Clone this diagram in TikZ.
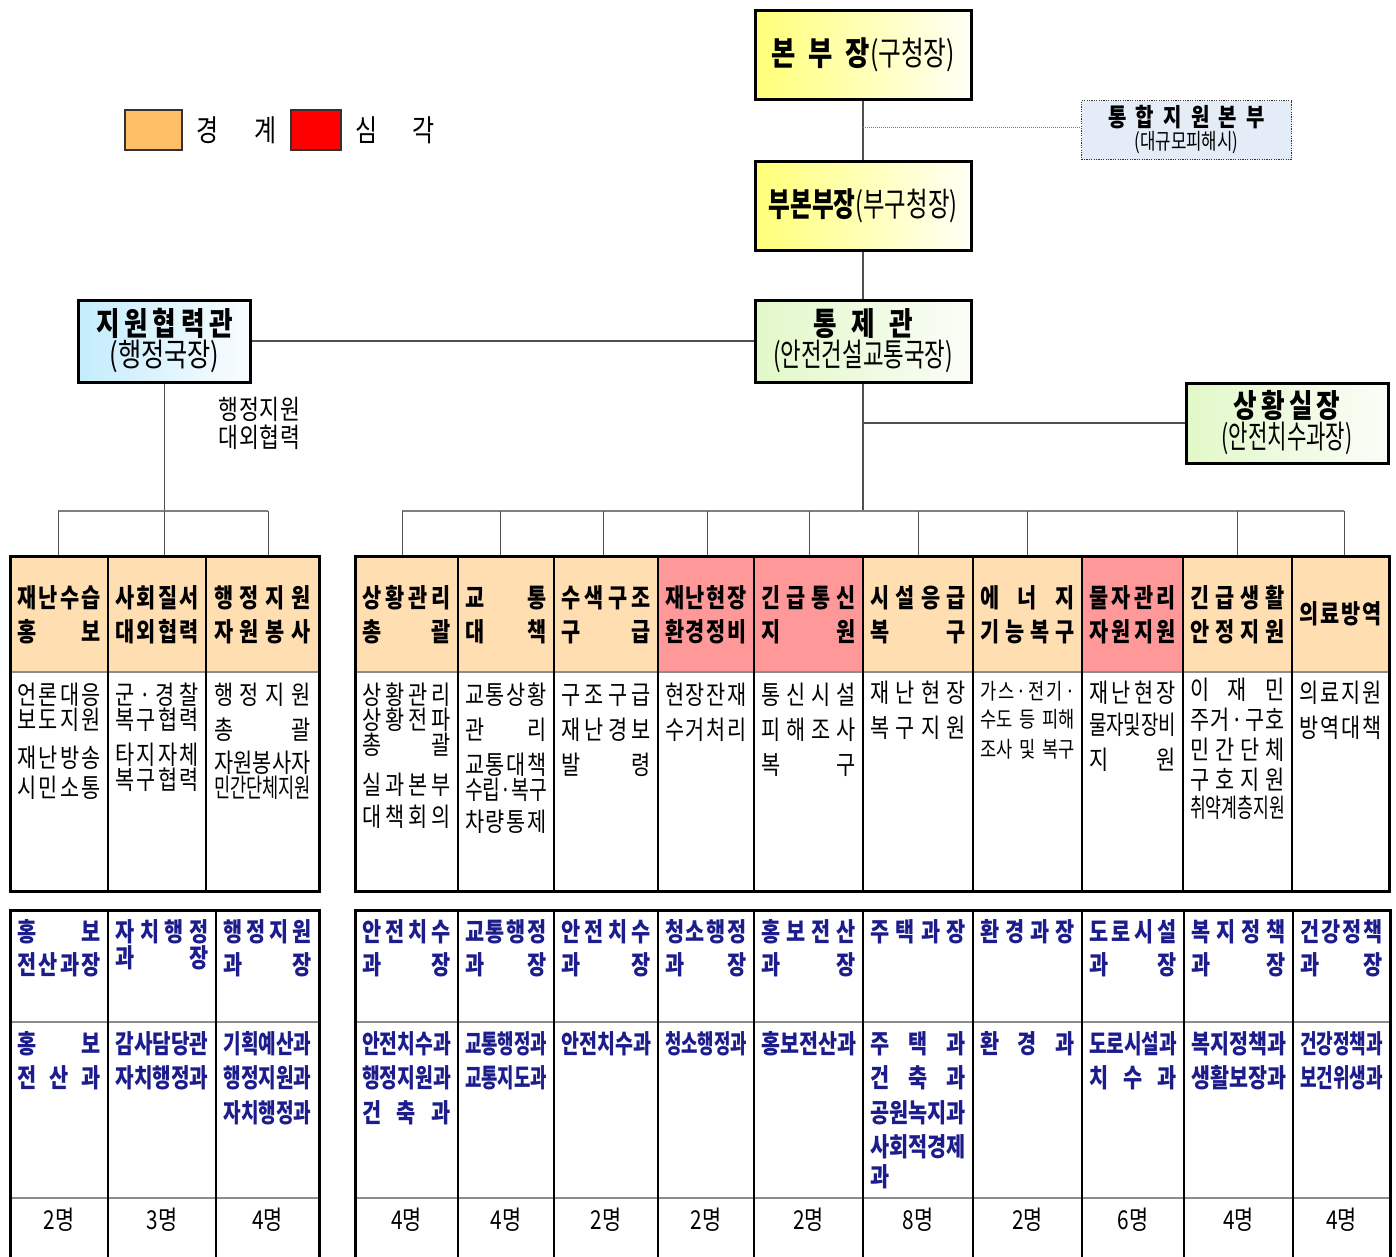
\documentclass[tikz,border=0pt]{standalone}
\usepackage{fontspec}
\usepackage{graphicx}
\setmainfont{Noto Sans CJK KR}
\newfontfamily\krc[FakeStretch=0.8]{Noto Sans CJK KR}
\usetikzlibrary{calc}
\definecolor{hdrc}{RGB}{255,222,178}
\definecolor{pinkc}{RGB}{255,153,153}
\definecolor{navyk}{RGB}{28,28,140}
\definecolor{linec}{RGB}{80,80,80}
\definecolor{yelc}{RGB}{255,255,120}
\definecolor{yelw}{RGB}{255,255,245}
\definecolor{grnc}{RGB}{226,248,200}
\definecolor{grnw}{RGB}{250,253,248}
\definecolor{bluc}{RGB}{196,236,252}
\definecolor{bluw}{RGB}{250,253,255}
\definecolor{tonghapc}{RGB}{228,236,248}
\definecolor{legor}{RGB}{255,191,102}

\ExplSyntaxOn
\box_new:N \l_rk_box
\bool_new:N \l_rk_bool
\tl_new:N \l_rk_tl
\NewDocumentCommand \dl { m }
 {
  \tl_set:No \l_rk_tl {#1}
  \hbox_set:Nn \l_rk_box { \tl_use:N \l_rk_tl }
  \dim_compare:nNnTF { \box_wd:N \l_rk_box } > { \hsize }
   {
    \box_scale:Nnn \l_rk_box { \dim_ratio:nn { \hsize } { \box_wd:N \l_rk_box } } { 1 }
    \hbox_to_wd:nn { \hsize } { \box_use_drop:N \l_rk_box \hss }
   }
   {
    \hbox_to_wd:nn { \hsize }
     {
      \bool_set_false:N \l_rk_bool
      \tl_map_inline:Nn \l_rk_tl
       { \bool_if:NT \l_rk_bool { \hfill } ##1 \bool_set_true:N \l_rk_bool }
     }
   }
 }
\ExplSyntaxOff

% #1 style, #2 name prefix, #3 x centre, #4 text width, #5 list y/text
\newcommand\colt[5]{\foreach \yy/\tx [count=\k] in {#5} {\node[#1, text width=#4pt, anchor=base] (#2-\k) at (#3,\yy+9.5) {\dl{\tx}};}}

\tikzset{
  hdrt/.style={font=\krc\bfseries\fontsize{26}{28}\selectfont, inner sep=0pt},
  bodyt/.style={font=\krc\fontsize{26}{28}\selectfont, inner sep=0pt},
  smallt/.style={font=\krc\fontsize{22}{24}\selectfont, inner sep=0pt},
  lowt/.style={font=\krc\bfseries\fontsize{26}{28}\selectfont, text=navyk, inner sep=0pt},
  cntt/.style={font=\krc\fontsize{26}{28}\selectfont, inner sep=0pt, anchor=base},
  lblt/.style={font=\krc\fontsize{27}{29}\selectfont, inner sep=0pt},
  legt/.style={font=\krc\fontsize{30}{32}\selectfont, inner sep=0pt},
  hcell/.style={draw=none, inner sep=0pt, minimum height=116pt},
  outerl/.style={line width=3pt, black},
  innerv/.style={line width=2.5pt, black},
  sepl/.style={line width=1.5pt, black!45},
  conn/.style={line width=1.2pt, color=linec},
  barl/.style={line width=1.8pt, color=black!50},
  boxs/.style={draw=black, line width=3pt, inner sep=0pt, align=center},
  legbox/.style={draw=black!80, line width=1.5pt, inner sep=0pt}
}

\begin{document}
\begin{tikzpicture}[x=1pt,y=-1pt]
\useasboundingbox (0,0) rectangle (1396,1256);

% ---------- legend ----------
\node[legbox, fill=legor, minimum width=57pt, minimum height=40pt] (lg1) at (153.5,130) {};
\node[legt, text width=81pt, anchor=base] (lg1t) at (236.5,141) {\dl{경계}};
\node[legbox, fill=red, minimum width=50pt, minimum height=40pt] (lg2) at (316,130) {};
\node[legt, text width=80pt, anchor=base] (lg2t) at (395,141) {\dl{심각}};

% ---------- top boxes ----------
\node[boxs, minimum width=216pt, minimum height=89pt, left color=yelc, right color=yelw,
      font=\krc\fontsize{33}{34}\selectfont] (bonbu) at (863,55)
  {{\bfseries\makebox[99pt][s]{본\hfill 부\hfill 장}}\resizebox{85pt}{\height}{(구청장)}};
\node[boxs, minimum width=216pt, minimum height=89pt, left color=yelc, right color=yelw,
      font=\krc\fontsize{33}{34}\selectfont] (bubon) at (863,205.5)
  {{\bfseries\resizebox{87pt}{\height}{부본부장}}\resizebox{102pt}{\height}{(부구청장)}};
\node[boxs, minimum width=216pt, minimum height=82pt, left color=grnc, right color=grnw,
      font=\krc\fontsize{32}{31}\selectfont] (tongje) at (863,341)
  {{\bfseries\makebox[100pt][s]{통\hfill 제\hfill 관}}\\\resizebox{180pt}{\height}{(안전건설교통국장)}};
\node[boxs, minimum width=202pt, minimum height=80pt, left color=grnc, right color=grnw,
      font=\krc\fontsize{32}{31}\selectfont] (sanghwang) at (1287,423)
  {{\bfseries\makebox[107pt][s]{상\hfill 황\hfill 실\hfill 장}}\\\resizebox{131pt}{\height}{(안전치수과장)}};
\node[boxs, minimum width=172pt, minimum height=82pt, left color=bluc, right color=bluw,
      font=\krc\fontsize{32}{31}\selectfont] (jiwon) at (164.5,341)
  {{\bfseries\makebox[137pt][s]{지\hfill 원\hfill 협\hfill 력\hfill 관}}\\\resizebox{110pt}{\height}{(행정국장)}};
\node[draw=black!80, line width=1.2pt, dash pattern=on 1.2pt off 1.2pt, fill=tonghapc,
      minimum width=210pt, minimum height=59pt, inner sep=0pt, align=center,
      font=\krc\fontsize{25}{23}\selectfont] (tonghap) at (1186.5,130)
  {{\bfseries\makebox[157pt][s]{통\hfill 합\hfill 지\hfill 원\hfill 본\hfill 부}}\\{\fontsize{22}{22}\selectfont\resizebox{104pt}{\height}{(대규모피해시)}}};

% label
\colt{lblt}{lb}{259.5}{82}{410/행정지원, 438/대외협력}

% ---------- coordinates for bars ----------
\coordinate (lbar) at (164.5,511);
\coordinate (rbar) at (863,511);
\coordinate (lb1) at (58,511);
\coordinate (lb3) at (268,511);
\coordinate (rb1) at (402,511);
\coordinate (rb10) at (1344,511);
\coordinate (tdot) at (863,127);

% ---------- connectors ----------
\draw[conn] (bonbu.south) -- (bubon.north);
\draw[conn] (bubon.south) -- (tongje.north);
\draw[conn] (tongje.south) -- (rbar);
\draw[line width=1pt, black!55, dash pattern=on 1pt off 1pt] (tdot) -- (tdot -| tonghap.west);
\draw[conn] (tongje.south |- sanghwang.west) -- (sanghwang.west);
\draw[conn] (jiwon.east) -- (tongje.west);
\draw[conn] (jiwon.south) -- (lbar);
\draw[barl] (lb1) -- (lb3);
\draw[barl] (rb1) -- (rb10);

% ---------- upper header cells ----------
\node[hcell, minimum width=98pt, fill=hdrc] (hl1) at (59,614) {};
\node[hcell, minimum width=98pt, fill=hdrc] (hl2) at (157,614) {};
\node[hcell, minimum width=113pt, fill=hdrc] (hl3) at (262.5,614) {};
\node[hcell, minimum width=103pt, fill=hdrc] (hr1) at (406.5,614) {};
\node[hcell, minimum width=96pt, fill=hdrc] (hr2) at (506,614) {};
\node[hcell, minimum width=104pt, fill=hdrc] (hr3) at (606,614) {};
\node[hcell, minimum width=96pt, fill=pinkc] (hr4) at (706,614) {};
\node[hcell, minimum width=109pt, fill=pinkc] (hr5) at (808.5,614) {};
\node[hcell, minimum width=110pt, fill=hdrc] (hr6) at (918,614) {};
\node[hcell, minimum width=109pt, fill=hdrc] (hr7) at (1027.5,614) {};
\node[hcell, minimum width=101pt, fill=pinkc] (hr8) at (1132.5,614) {};
\node[hcell, minimum width=109pt, fill=hdrc] (hr9) at (1237.5,614) {};
\node[hcell, minimum width=97pt, fill=hdrc] (hr10) at (1340.5,614) {};

% drops
\draw[conn, line width=1pt] (lb1) -- (lb1 |- hl1.north);
\draw[conn, line width=1pt] (lbar) -- (lbar |- hl2.north);
\draw[conn, line width=1pt] (lb3) -- (lb3 |- hl3.north);
\foreach \xx/\hh in {402/hr1, 500/hr2, 603/hr3, 707/hr4, 809/hr5, 918/hr6, 1027/hr7, 1237/hr9, 1344/hr10}
  \draw[conn, line width=1pt] (\xx,511) -- (\xx,511 |- \hh.north);

% ---------- upper grid ----------
\draw[sepl] (10,672) -- (319,672);
\draw[sepl] (355,672) -- (1389,672);
\foreach \xx in {108,206} \draw[innerv] (\xx,556) -- (\xx,891);
\foreach \xx in {458,554,658,754,863,973,1082,1183,1292} \draw[innerv] (\xx,556) -- (\xx,891);
\draw[outerl] (10,556) rectangle (319,891);
\draw[outerl] (355,556) rectangle (1389,891);

% ---------- upper header text ----------
\colt{hdrt}{tl1}{59}{83}{598/재난수습, 632/홍보}
\colt{hdrt}{tl2}{157}{84}{598/사회질서, 632/대외협력}
\colt{hdrt}{tl3}{262.5}{97}{598/행정지원, 632/자원봉사}
\colt{hdrt}{tr1}{406.5}{89}{598/상황관리, 632/총괄}
\colt{hdrt}{tr2}{506}{82}{598/교통, 632/대책}
\colt{hdrt}{tr3}{606}{90}{598/수색구조, 632/구급}
\colt{hdrt}{tr4}{706}{82}{598/재난현장, 632/환경정비}
\colt{hdrt}{tr5}{808.5}{95}{598/긴급통신, 632/지원}
\colt{hdrt}{tr6}{918}{96}{598/시설응급, 632/복구}
\colt{hdrt}{tr7}{1027.5}{95}{598/에너지, 632/기능복구}
\colt{hdrt}{tr8}{1132.5}{87}{598/물자관리, 632/자원지원}
\colt{hdrt}{tr9}{1237.5}{95}{598/긴급생활, 632/안정지원}
\colt{hdrt}{tr10}{1340.5}{83}{614/의료방역}

% ---------- upper body text ----------
\colt{bodyt}{bl1}{59}{83}{695/언론대응, 720/보도지원, 758/재난방송, 788/시민소통}
\colt{bodyt}{bl2}{157}{84}{695/군·경찰, 720/복구협력, 755/타지자체, 780/복구협력}
\colt{bodyt}{bl3}{262.5}{97}{695/행정지원, 730/총괄, 763/자원봉사자, 788/민간단체지원}
\colt{bodyt}{br1}{406.5}{89}{695/상황관리, 720/상황전파, 745/총괄, 785/실과본부, 817/대책회의}
\colt{bodyt}{br2}{506}{82}{695/교통상황, 730/관리, 765/교통대책, 790/수립·복구, 822/차량통제}
\colt{bodyt}{br3}{606}{90}{695/구조구급, 730/재난경보, 765/발령}
\colt{bodyt}{br4}{706}{82}{695/현장잔재, 730/수거처리}
\colt{bodyt}{br5}{808.5}{95}{695/통신시설, 730/피해조사, 765/복구}
\colt{bodyt}{br6}{918}{96}{693/재난현장, 728/복구지원}
\colt{smallt}{br7}{1027.5}{95}{690/가스·전기·, 718/{수도}{등}{피해}, 748/{조사}{및}{복구}}
\colt{bodyt}{br8}{1132.5}{87}{693/재난현장, 725/물자및장비, 760/지원}
\colt{bodyt}{br9}{1237.5}{95}{690/이재민, 720/주거·구호, 750/민간단체, 780/구호지원, 808/취약계층지원}
\colt{bodyt}{br10}{1340.5}{83}{693/의료지원, 728/방역대책}

% ---------- lower grid ----------
\draw[sepl] (10,1022) -- (319,1022);
\draw[sepl] (10,1198) -- (319,1198);
\draw[sepl] (355,1022) -- (1390,1022);
\draw[sepl] (355,1198) -- (1390,1198);
\foreach \xx in {108,216} \draw[innerv] (\xx,910) -- (\xx,1262);
\foreach \xx in {458,554,658,754,863,973,1082,1184,1293} \draw[innerv] (\xx,910) -- (\xx,1262);
\draw[outerl] (10,1262) -- (10,910) -- (319,910) -- (319,1262);
\draw[outerl] (355,1262) -- (355,910) -- (1390,910) -- (1390,1262);

% ---------- lower header text ----------
\colt{lowt}{ul1}{59}{83}{932/홍보, 965/전산과장}
\colt{lowt}{ul2}{162}{93}{932/자치행정, 958/과장}
\colt{lowt}{ul3}{267.5}{88}{932/행정지원, 965/과장}
\colt{lowt}{ur1}{406.5}{89}{932/안전치수, 965/과장}
\colt{lowt}{ur2}{506}{82}{932/교통행정, 965/과장}
\colt{lowt}{ur3}{606}{90}{932/안전치수, 965/과장}
\colt{lowt}{ur4}{706}{82}{932/청소행정, 965/과장}
\colt{lowt}{ur5}{808.5}{95}{932/홍보전산, 965/과장}
\colt{lowt}{ur6}{918}{96}{932/주택과장}
\colt{lowt}{ur7}{1027.5}{95}{932/환경과장}
\colt{lowt}{ur8}{1133}{88}{932/도로시설, 965/과장}
\colt{lowt}{ur9}{1238.5}{95}{932/복지정책, 965/과장}
\colt{lowt}{ur10}{1341.5}{83}{932/건강정책, 965/과장}

% ---------- lower body text ----------
\colt{lowt}{vl1}{59}{83}{1044/홍보, 1078/전산과}
\colt{lowt}{vl2}{162}{93}{1044/감사담당관, 1078/자치행정과}
\colt{lowt}{vl3}{267.5}{88}{1044/기획예산과, 1078/행정지원과, 1113/자치행정과}
\colt{lowt}{vr1}{406.5}{89}{1044/안전치수과, 1078/행정지원과, 1113/건축과}
\colt{lowt}{vr2}{506}{82}{1044/교통행정과, 1078/교통지도과}
\colt{lowt}{vr3}{606}{90}{1044/안전치수과}
\colt{lowt}{vr4}{706}{82}{1044/청소행정과}
\colt{lowt}{vr5}{808.5}{95}{1044/홍보전산과}
\colt{lowt}{vr6}{918}{96}{1044/주택과, 1078/건축과, 1113/공원녹지과, 1147/사회적경제, 1177/과\hfill}
\colt{lowt}{vr7}{1027.5}{95}{1044/환경과}
\colt{lowt}{vr8}{1133}{88}{1044/도로시설과, 1078/치수과}
\colt{lowt}{vr9}{1238.5}{95}{1044/복지정책과, 1078/생활보장과}
\colt{lowt}{vr10}{1341.5}{83}{1044/건강정책과, 1078/보건위생과}

% ---------- counts ----------
\foreach \xx/\cc [count=\k] in {59/2명, 162/3명, 267.5/4명, 406.5/4명, 506/4명, 606/2명, 706/2명, 808.5/2명, 918/8명, 1027.5/2명, 1133/6명, 1238.5/4명, 1341.5/4명}
  \node[cntt] (cnt-\k) at (\xx,1229) {\cc};

\end{tikzpicture}
\end{document}
